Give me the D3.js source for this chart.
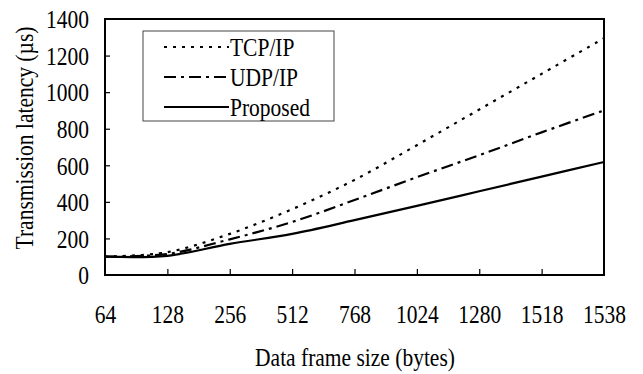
<!DOCTYPE html>
<html><head><meta charset="utf-8">
<script src="https://cdn.jsdelivr.net/npm/d3@7"></script>
<style>body{margin:0;background:#fff;}</style></head>
<body><svg id="c" width="643" height="374"></svg>
<script>
const categories = ["64","128","256","512","768","1024","1280","1518","1538"];
const tcp = [100,125,225,360,520,710,905,1100,1295];
const udp = [100,115,195,290,410,535,655,780,900];
const proposed = [100,105,170,225,300,378,458,538,618];
const yTicks = [0,200,400,600,800,1000,1200,1400];
const seriesNames = ["TCP/IP","UDP/IP","Proposed"];

const FONT = '"Liberation Serif"';
const svg = d3.select("#c");
const m = {l:105, r:604, t:19, b:275};
const x = d3.scalePoint().domain(categories).range([m.l, m.r]);
const y = d3.scaleLinear().domain([0,1400]).range([m.b, m.t]);
const FS = 25, SX = 0.86;

// frame
svg.append("rect").attr("x",m.l).attr("y",m.t).attr("width",m.r-m.l).attr("height",m.b-m.t)
  .attr("fill","none").attr("stroke","#000").attr("stroke-width",2);

// x ticks (inward)
const xa = svg.append("g").attr("transform",`translate(0,${m.b})`)
  .call(d3.axisBottom(x).tickSizeInner(-6).tickSizeOuter(0));
xa.select(".domain").remove();
xa.selectAll(".tick line").attr("stroke","#000").attr("stroke-width",1.2);
xa.selectAll(".tick").filter((d,i)=>i===0||i===categories.length-1).select("line").remove();
xa.selectAll(".tick text").style("font-family",FONT).style("font-size",FS+"px").attr("fill","#000")
  .attr("dy","0.35em").attr("y",39).attr("transform",`scale(${SX},1)`);

// y ticks (inward)
const ya = svg.append("g").attr("transform",`translate(${m.l},0)`)
  .call(d3.axisLeft(y).tickValues(yTicks).tickFormat(d3.format("d")).tickSizeInner(-5).tickSizeOuter(0));
ya.select(".domain").remove();
ya.selectAll(".tick line").attr("stroke","#000").attr("stroke-width",1.2);
ya.selectAll(".tick").filter(d=>d===0||d===1400).select("line").remove();
ya.selectAll(".tick text").style("font-family",FONT).style("font-size",FS+"px").attr("fill","#000")
  .attr("dy","0.35em").attr("x",-16/SX).attr("transform",`scale(${SX},1)`);

// lines
const styles = [
  {data:tcp, dash:"3,6"},
  {data:udp, dash:"12,5,3,5"},
  {data:proposed, dash:null}
];
const line = d3.line().x((d,i)=>x(categories[i])).y(d=>y(d)).curve(d3.curveCatmullRom.alpha(0.5));
styles.forEach(s=>{
  svg.append("path").datum(s.data).attr("d",line).attr("fill","none")
    .attr("stroke","#000").attr("stroke-width",2.2)
    .attr("stroke-dasharray",s.dash);
});

// legend
const lg = svg.append("g");
lg.append("rect").attr("x",143).attr("y",31).attr("width",191).attr("height",90)
  .attr("fill","#fff").attr("stroke","#444").attr("stroke-width",1);
seriesNames.forEach((n,i)=>{
  const yy = 47 + i*30;
  lg.append("line").attr("x1",164).attr("x2",229).attr("y1",yy).attr("y2",yy)
    .attr("stroke","#000").attr("stroke-width",2.2).attr("stroke-dasharray",styles[i].dash);
  lg.append("text").attr("transform",`translate(230,${yy}) scale(${SX},1)`)
    .attr("dy","0.35em").style("font-family",FONT).style("font-size",FS+"px").text(n);
});

// axis titles
svg.append("text").attr("transform",`translate(355,357) scale(${SX},1)`)
  .attr("text-anchor","middle").attr("dy","0.35em").style("font-family",FONT).style("font-size",FS+"px")
  .text("Data frame size (bytes)");
svg.append("text").attr("transform",`translate(24,138) rotate(-90) scale(${SX},1)`)
  .attr("text-anchor","middle").attr("dy","0.35em").style("font-family",FONT).style("font-size",FS+"px")
  .text("Transmission latency (µs)");
</script></body></html>
